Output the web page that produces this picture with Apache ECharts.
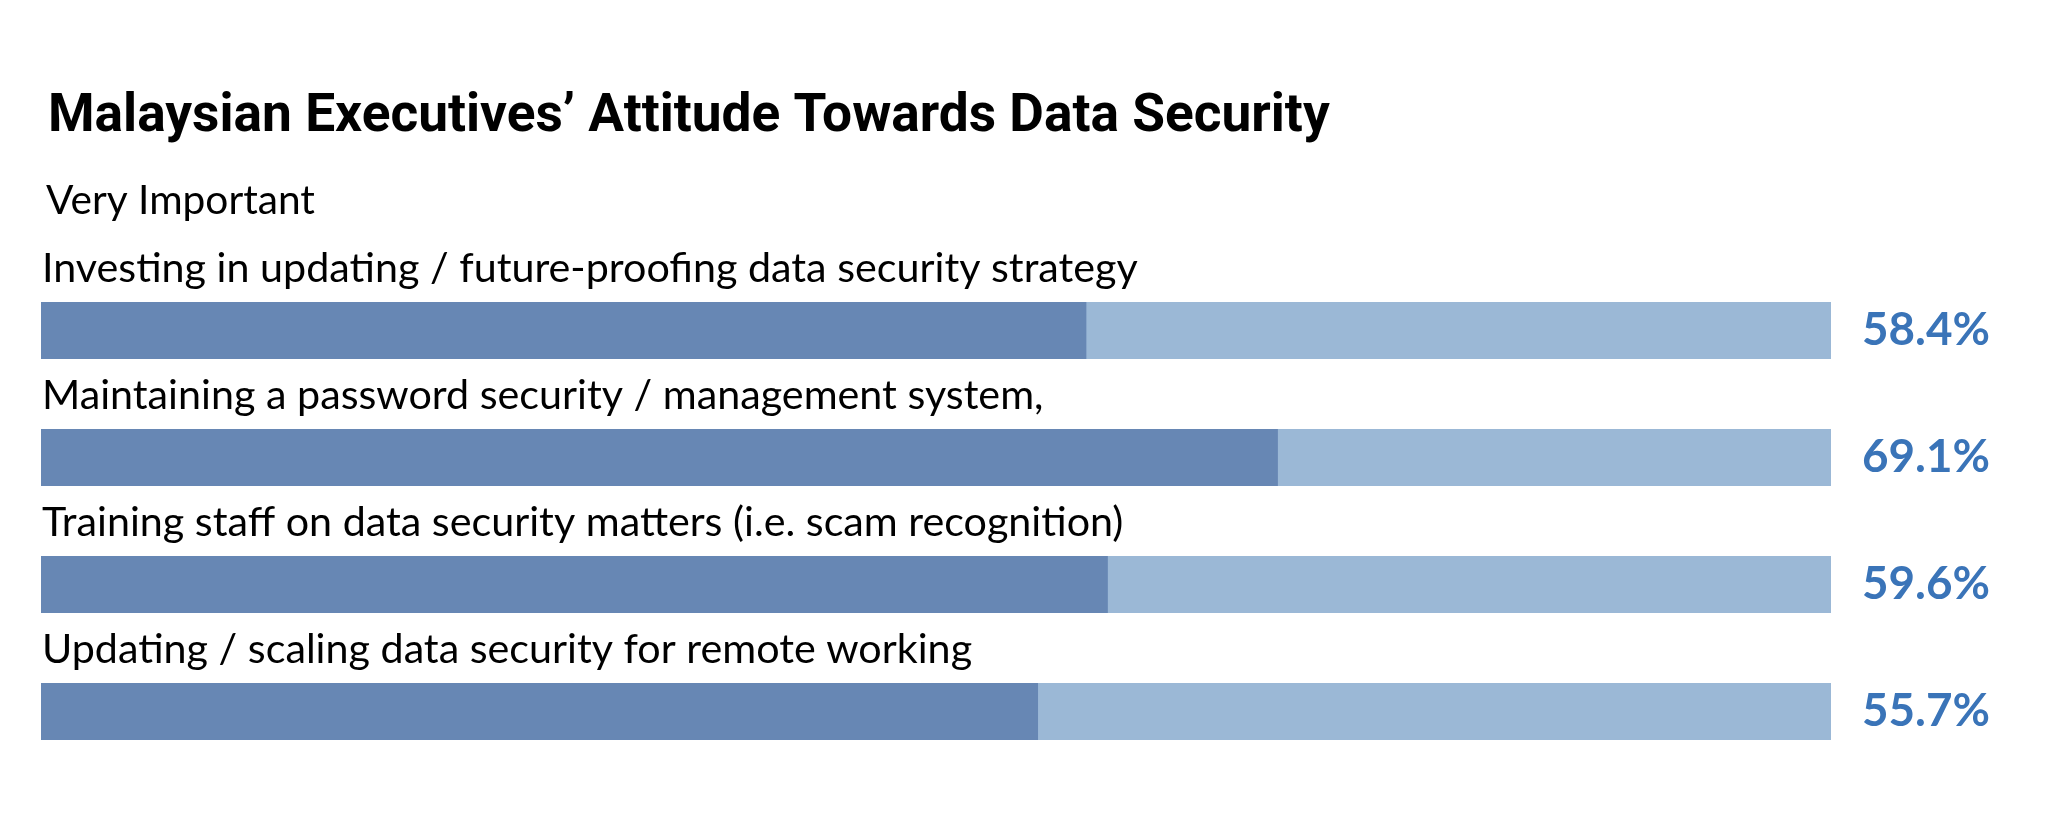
<!DOCTYPE html>
<html>
<head>
<meta charset="utf-8">
<script src="https://cdn.jsdelivr.net/npm/echarts@6/dist/echarts.min.js"></script>
<style>
  html, body { margin: 0; padding: 0; background: #ffffff; }
  #chart { width: 2048px; height: 836px; }
</style>
</head>
<body>
<div id="chart"></div>
<script>
const titleText = 'Malaysian Executives\u2019 Attitude Towards Data Security';
const subtitleText = 'Very Important';
const categories = [
  'Investing in updating / future-proofing data security strategy',
  'Maintaining a password security / management system,',
  'Training staff on data security matters (i.e. scam recognition)',
  'Updating / scaling data security for remote working'
];
const veryImportant = [58.4, 69.1, 59.6, 55.7];
const fullScale = [100, 100, 100, 100];

function fitSize(text, weight, family, target) {
  const ctx = document.createElement('canvas').getContext('2d');
  ctx.font = weight + ' 100px ' + family;
  return 100 * target / ctx.measureText(text).width;
}

const titleFamily = 'Roboto';
const bodyFamily = 'Lato';
const titleSize = fitSize(titleText, 'bold', titleFamily, 1282);
const subSize = fitSize(subtitleText, 'normal', bodyFamily, 269);
const catSize = fitSize(categories[0], 'normal', bodyFamily, 1096);
const valSize = fitSize('58.4%', 'bold', bodyFamily, 128);

const chart = echarts.init(document.getElementById('chart'));
chart.setOption({
  animation: false,
  backgroundColor: '#ffffff',
  title: [
    {
      text: titleText, left: 43, top: 86,
      textStyle: { fontFamily: titleFamily, fontWeight: 'bold', fontSize: titleSize, lineHeight: titleSize, color: '#000000' }
    },
    {
      text: subtitleText, left: 41, top: 176,
      textStyle: { fontFamily: bodyFamily, fontWeight: 'normal', fontSize: subSize, lineHeight: subSize, color: '#000000' }
    }
  ],
  grid: { left: 41, right: 217, top: 267, bottom: 61, containLabel: false },
  xAxis: { type: 'value', min: 0, max: 100, show: false },
  yAxis: { type: 'category', data: categories, inverse: true, show: false },
  series: [
    {
      type: 'bar', data: fullScale, barWidth: 57, barGap: '-100%',
      itemStyle: { color: '#9bb8d6' }, silent: true,
      label: {
        show: true, position: 'right', distance: 31,
        formatter: p => veryImportant[p.dataIndex].toFixed(1) + '%',
        fontFamily: bodyFamily, fontWeight: 'bold', fontSize: valSize, color: '#3a74b8'
      }
    },
    {
      type: 'bar', data: veryImportant, barWidth: 57, barGap: '-100%',
      itemStyle: { color: '#6787b4' }, silent: true,
      label: {
        show: true, position: [1, -33], align: 'left', verticalAlign: 'middle',
        formatter: p => categories[p.dataIndex],
        fontFamily: bodyFamily, fontWeight: 'normal', fontSize: catSize, color: '#000000'
      }
    }
  ]
});
</script>
</body>
</html>
